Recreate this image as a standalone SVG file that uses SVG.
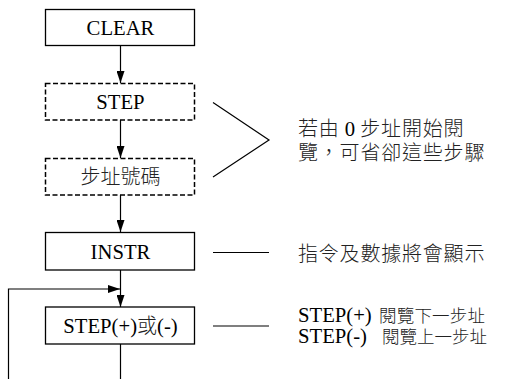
<svg xmlns="http://www.w3.org/2000/svg" width="509" height="379" viewBox="0 0 509 379">
<style>
.box{fill:#fff;stroke:#000;stroke-width:1.3}
.dash{fill:#fff;stroke:#000;stroke-width:1.5;stroke-dasharray:5,2.5}
.t{font-family:'Liberation Serif','Times New Roman','DejaVu Serif',serif;font-size:20.7px;fill:#000}
.k{font-family:'Noto Sans CJK TC','Noto Sans CJK SC',sans-serif;font-size:20px;font-weight:300;fill:#222}
.s{font-size:17.5px}
.c{text-anchor:middle}
.ln{fill:none;stroke:#000;stroke-width:1.2}
</style>
<defs>
<marker id="ah" markerWidth="12" markerHeight="8" refX="12" refY="4" orient="auto" markerUnits="userSpaceOnUse">
<path d="M0,0 L12,4 L0,8 Z" fill="#000"/>
</marker>
</defs>
<g id="connectors">
<line class="ln" x1="120.5" y1="45.5" x2="120.5" y2="83" marker-end="url(#ah)"/>
<line class="ln" x1="120.5" y1="120" x2="120.5" y2="158" marker-end="url(#ah)"/>
<line class="ln" x1="120.5" y1="195" x2="120.5" y2="232" marker-end="url(#ah)"/>
<line class="ln" x1="120.5" y1="270" x2="120.5" y2="307" marker-end="url(#ah)"/>
<line class="ln" x1="120.5" y1="344" x2="120.5" y2="379"/>
<polyline class="ln" points="8.5,379 8.5,289 120,289" marker-end="url(#ah)"/>
<polyline class="ln" points="213,102.5 269,140 213,177"/>
<line class="ln" x1="213" y1="252.5" x2="269" y2="252.5"/>
<line class="ln" x1="213" y1="326" x2="269" y2="326"/>
</g>
<g id="clear">
<rect class="box" x="45.5" y="9.5" width="149" height="36"/>
<text class="t c" x="120.5" y="34.5">CLEAR</text>
</g>
<g id="step">
<rect class="dash" x="45.5" y="83.5" width="149" height="36.5"/>
<text class="t c" x="120.5" y="109">STEP</text>
</g>
<g id="addr">
<rect class="dash" x="45.5" y="158.5" width="149" height="36.5"/>
<text class="t c" x="120.5" y="184"><tspan class="k">步址號碼</tspan></text>
</g>
<g id="instr">
<rect class="box" x="45.5" y="232.5" width="149" height="37.5"/>
<text class="t c" x="120.5" y="258.5">INSTR</text>
</g>
<g id="stepudp">
<rect class="box" x="45.5" y="307" width="149" height="37"/>
<text class="t c" x="120.5" y="333">STEP(+)<tspan class="k">或</tspan>(-)</text>
</g>
<g id="notes">
<text class="t" x="298" y="135.5"><tspan class="k" letter-spacing="0.8">若由</tspan> 0 <tspan class="k" letter-spacing="0.8">步址開始閱</tspan></text>
<text class="t" x="298" y="159.5"><tspan class="k" letter-spacing="0.8">覽，可省卻這些步驟</tspan></text>
<text class="t" x="298" y="260.5"><tspan class="k" letter-spacing="0.8">指令及數據將會顯示</tspan></text>
<text class="t" x="298" y="321.5">STEP(+) <tspan class="k s" x="379" letter-spacing="0.2">閱覽下一步址</tspan></text>
<text class="t" x="298" y="342.5">STEP(-) <tspan class="k s" x="382">閱覽上一步址</tspan></text>
</g>
</svg>
